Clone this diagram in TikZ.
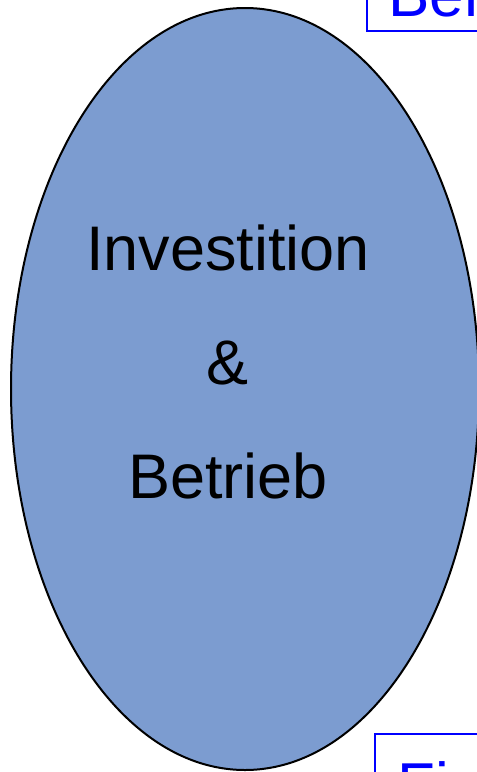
\documentclass[tikz,border=0pt]{standalone}
\usepackage{fontspec}
\setmainfont{Liberation Sans}
\usetikzlibrary{shapes.geometric}
\definecolor{ellfill}{RGB}{124,156,208}
\definecolor{boxblue}{RGB}{0,0,255}
\tikzset{
  blob/.style={ellipse, draw=black, line width=2pt, fill=ellfill, inner sep=0pt,
    minimum width=468pt, minimum height=762pt},
  bigtext/.style={inner sep=0pt, anchor=base, font=\fontsize{63}{75}\selectfont, text=black},
  bluebox/.style={draw=boxblue, line width=2pt},
  bluetext/.style={inner sep=0pt, anchor=base west, font=\fontsize{62}{74}\selectfont, text=boxblue}
}
\begin{document}
\begin{tikzpicture}[x=1pt,y=-1pt]
\useasboundingbox (0,0) rectangle (477,772);
\clip (0,0) rectangle (477,772);
\node[blob] (ell) at (245,389) {};
\node[bigtext] (inv) at (228,270) {Investition};
\node[bigtext] (amp) at (228,384) {\&};
\node[bigtext] (bet) at (228,498) {Betrieb};
% top box (cut off)
\coordinate (tbl) at (367,31);
\coordinate (tbr) at (520,-60);
\draw[bluebox] (tbl) rectangle (tbr);
\node[bluetext] (toptext) at (388,16) {Ber};
% bottom box (cut off)
\coordinate (bbl) at (375,734);
\coordinate (bbr) at (540,850);
\draw[bluebox] (bbl) rectangle (bbr);
\node[bluetext] (bottext) at (397,806) {Fi};
\end{tikzpicture}
\end{document}
